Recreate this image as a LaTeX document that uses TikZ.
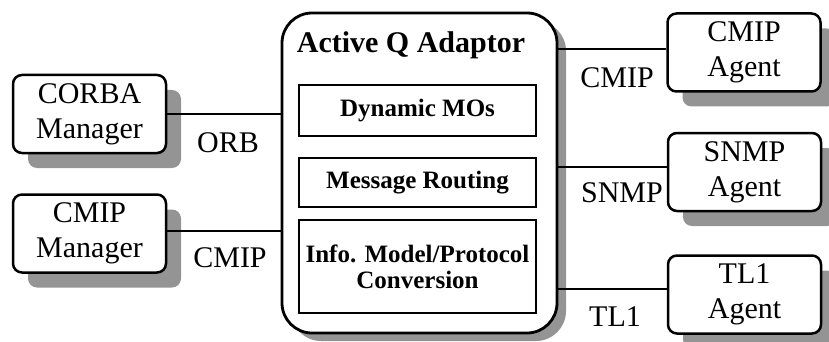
\documentclass[tikz,border=0pt]{standalone}
\usepackage{fontspec}
\setmainfont{Liberation Serif}
\usetikzlibrary{shadows}
\begin{document}
\begin{tikzpicture}[x=1pt,y=-1pt,
  shad/.style={drop shadow={shadow xshift=15pt,shadow yshift=-15pt,fill=black!42,opacity=1}},
  endbox/.style={draw,line width=2.5pt,rounded corners=9pt,fill=white,shad,
    minimum width=153pt,minimum height=78pt,inner sep=0pt,align=center,
    font=\fontsize{30}{35}\selectfont},
  mainbox/.style={draw,line width=2.8pt,rounded corners=30pt,fill=white,
    drop shadow={shadow xshift=9pt,shadow yshift=-8pt,fill=black!42,opacity=1},
    minimum width=275pt,minimum height=320pt,inner sep=0pt},
  inbox/.style={draw,line width=2.3pt,minimum width=237pt,inner sep=0pt,align=center,
    font=\fontsize{25}{26}\bfseries\selectfont},
  lbl/.style={font=\fontsize{30}{35}\selectfont,inner sep=0pt},
  conn/.style={line width=2pt}]
\useasboundingbox (0,0) rectangle (829,342);
\node[mainbox] (main) at (419.5,173) {};
\node[font=\fontsize{30}{35}\bfseries\selectfont,inner sep=0pt] (title) at (411,45) {Active Q Adaptor};
\node[inbox,minimum height=51pt] (dyn) at (417.5,110.5) {Dynamic MOs};
\node[inbox,minimum height=49pt] (msg) at (417.5,182.5) {Message Routing};
\node[inbox,minimum height=93pt] (info) at (417.5,266.5) {Info. Model/Protocol\\Conversion};
\node[endbox] (corba) at (89.5,114) {CORBA\\Manager};
\node[endbox] (cmipm) at (89.5,233.5) {CMIP\\Manager};
\node[endbox] (cmipa) at (744,52.5) {CMIP\\Agent};
\node[endbox] (snmpa) at (744.5,172) {SNMP\\Agent};
\node[endbox] (tla) at (744.5,294.5) {TL1\\Agent};
\coordinate (c1) at (main.west |- 0,114);
\coordinate (c2) at (main.west |- 0,231);
\coordinate (c3) at (main.east |- 0,49);
\coordinate (c4) at (main.east |- 0,167);
\coordinate (c5) at (main.east |- 0,289);
\draw[conn] (corba.east |- c1) -- (c1);
\draw[conn] (cmipm.east |- c2) -- (c2);
\draw[conn] (c3) -- (cmipa.west |- c3);
\draw[conn] (c4) -- (snmpa.west |- c4);
\draw[conn] (c5) -- (tla.west |- c5);
\node[lbl] (lorb) at (228,143) {ORB};
\node[lbl] (lcmipl) at (230,258) {CMIP};
\node[lbl] (lcmipr) at (617,78) {CMIP};
\node[lbl] (lsnmp) at (622,193) {SNMP};
\node[lbl] (ltl) at (615,317) {TL1};
\end{tikzpicture}
\end{document}
